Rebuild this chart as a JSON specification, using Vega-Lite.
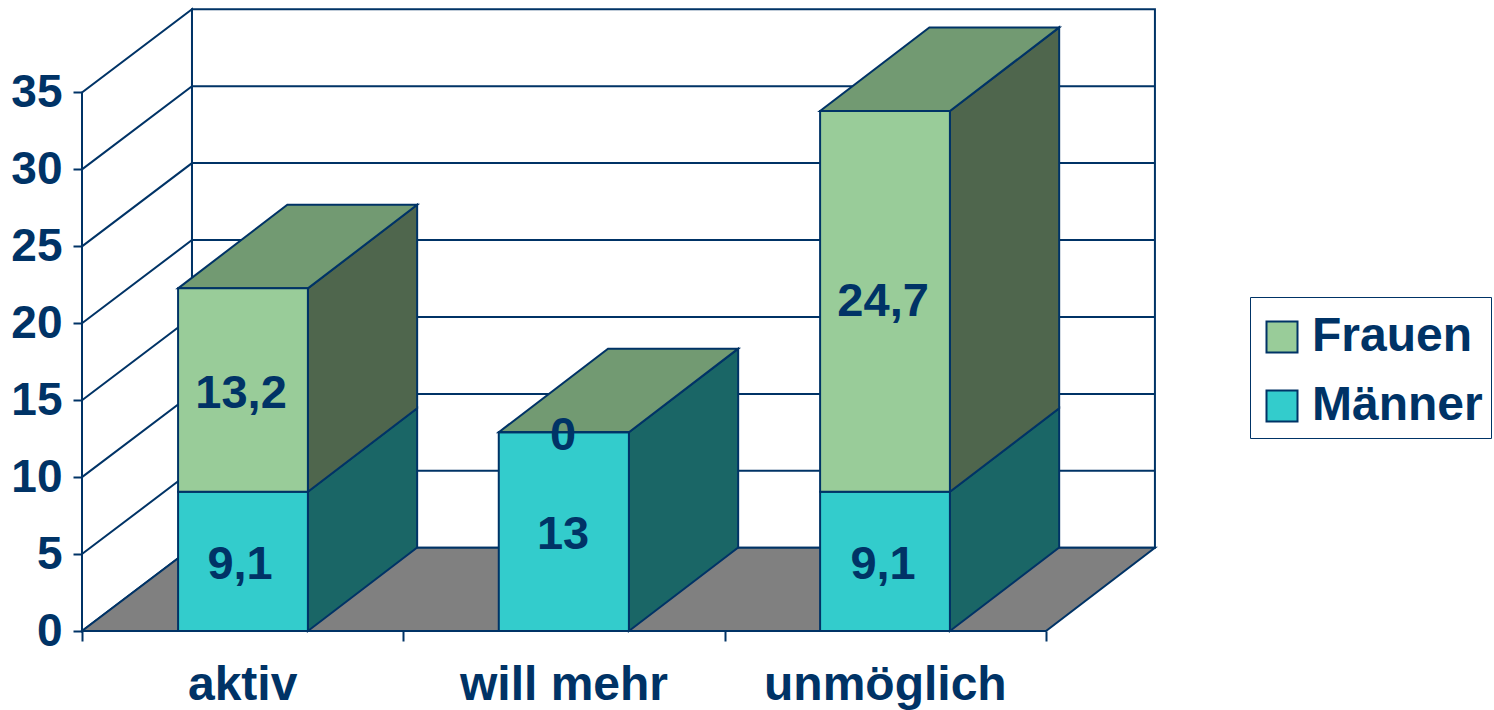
{
"$schema":"https://vega.github.io/schema/vega-lite/v6.json",
"width":1412,"height":631,
"autosize":{"type":"none"},
"padding":{"left":82,"top":0,"right":0,"bottom":79},
"background":"white",
"view":{"stroke":null},
"config":{"font":"Liberation Sans"},
"datasets":{
"walls":[
{"part":"left","x":0,"y":0,"y2":35},{"part":"left","x":0.3423,"y":5.41,"y2":40.41},
{"part":"back","x":0.3423,"y":5.41,"y2":40.41},{"part":"back","x":3.339,"y":5.41,"y2":40.41}
],
"floor":[
{"x":0,"y":0,"y2":0},{"x":0.3423,"y":0,"y2":5.41},{"x":3,"y":0,"y2":5.41},{"x":3.339,"y":5.41,"y2":5.41}
],
"grid":[
{"level":5,"x":0,"y":5},{"level":5,"x":0.3423,"y":10.41},{"level":5,"x":3.339,"y":10.41},
{"level":10,"x":0,"y":10},{"level":10,"x":0.3423,"y":15.41},{"level":10,"x":3.339,"y":15.41},
{"level":15,"x":0,"y":15},{"level":15,"x":0.3423,"y":20.41},{"level":15,"x":3.339,"y":20.41},
{"level":20,"x":0,"y":20},{"level":20,"x":0.3423,"y":25.41},{"level":20,"x":3.339,"y":25.41},
{"level":25,"x":0,"y":25},{"level":25,"x":0.3423,"y":30.41},{"level":25,"x":3.339,"y":30.41},
{"level":30,"x":0,"y":30},{"level":30,"x":0.3423,"y":35.41},{"level":30,"x":3.339,"y":35.41}
],
"sideM":[
{"cat":"aktiv","x":0.703,"y":0,"y2":9.05},{"cat":"aktiv","x":1.043,"y":5.43,"y2":14.48},
{"cat":"will mehr","x":1.702,"y":0,"y2":12.92},{"cat":"will mehr","x":2.042,"y":5.43,"y2":18.35},
{"cat":"unmöglich","x":2.701,"y":0,"y2":9.05},{"cat":"unmöglich","x":3.041,"y":5.43,"y2":14.48}
],
"sideF":[
{"cat":"aktiv","x":0.703,"y":9.05,"y2":22.27},{"cat":"aktiv","x":1.043,"y":14.48,"y2":27.7},
{"cat":"unmöglich","x":2.701,"y":9.05,"y2":33.8},{"cat":"unmöglich","x":3.041,"y":14.48,"y2":39.23}
],
"top":[
{"cat":"aktiv","x":0.299,"y":22.27,"y2":22.27},{"cat":"aktiv","x":0.639,"y":22.27,"y2":27.7},{"cat":"aktiv","x":0.703,"y":22.27,"y2":27.7},{"cat":"aktiv","x":1.043,"y":27.7,"y2":27.7},
{"cat":"will mehr","x":1.297,"y":12.92,"y2":12.92},{"cat":"will mehr","x":1.637,"y":12.92,"y2":18.35},{"cat":"will mehr","x":1.702,"y":12.92,"y2":18.35},{"cat":"will mehr","x":2.042,"y":18.35,"y2":18.35},
{"cat":"unmöglich","x":2.297,"y":33.8,"y2":33.8},{"cat":"unmöglich","x":2.637,"y":33.8,"y2":39.23},{"cat":"unmöglich","x":2.701,"y":33.8,"y2":39.23},{"cat":"unmöglich","x":3.041,"y":39.23,"y2":39.23}
],
"front":[
{"cat":"aktiv","series":"Männer","x":0.299,"x2":0.703,"y":0,"y2":9.05},
{"cat":"aktiv","series":"Frauen","x":0.299,"x2":0.703,"y":9.05,"y2":22.27},
{"cat":"will mehr","series":"Männer","x":1.297,"x2":1.702,"y":0,"y2":12.92},
{"cat":"will mehr","series":"Frauen","x":1.297,"x2":1.702,"y":12.92,"y2":12.92},
{"cat":"unmöglich","series":"Männer","x":2.297,"x2":2.701,"y":0,"y2":9.05},
{"cat":"unmöglich","series":"Frauen","x":2.297,"x2":2.701,"y":9.05,"y2":33.8}
],
"labels":[
{"label":"9,1","x":0.492,"y":4.32},{"label":"13,2","x":0.495,"y":15.4},
{"label":"13","x":1.497,"y":6.26},{"label":"0","x":1.497,"y":12.7},
{"label":"9,1","x":2.493,"y":4.32},{"label":"24,7","x":2.493,"y":21.37}
],
"cats":[
{"label":"aktiv","x":0.5,"y":-3.55},{"label":"will mehr","x":1.5,"y":-3.55},{"label":"unmöglich","x":2.5,"y":-3.55}
]
},
"encoding":{
"x":{"field":"x","type":"quantitative","title":null,"scale":{"domain":[0,4.3942],"nice":false,"zero":false},
"axis":{"values":[0,1,2,3],"labels":false,"grid":false,"domain":false,"ticks":true,"tickSize":10,"tickWidth":2,"tickColor":"#003366","title":null}},
"y":{"field":"y","type":"quantitative","title":null,"stack":null,"scale":{"domain":[0,41.01],"nice":false,"zero":false},
"axis":{"values":[0,5,10,15,20,25,30,35],"grid":false,"domain":false,"tickSize":9,"tickWidth":2,"tickColor":"#003366","labelFont":"Liberation Sans","labelFontSize":46,"labelFontWeight":"bold","labelColor":"#003366","labelPadding":11,"title":null}}
},
"layer":[
{"data":{"name":"walls"},"mark":{"type":"area","orient":"vertical","fill":"white","stroke":"#003366","strokeWidth":2},"encoding":{"y2":{"field":"y2"},"detail":{"field":"part"}}},
{"data":{"name":"grid"},"mark":{"type":"line","stroke":"#003366","strokeWidth":2},"encoding":{"detail":{"field":"level"}}},
{"data":{"name":"floor"},"mark":{"type":"area","orient":"vertical","fill":"#808080","stroke":"#003366","strokeWidth":2},"encoding":{"y2":{"field":"y2"}}},
{"data":{"name":"sideM"},"mark":{"type":"area","orient":"vertical","fill":"#1A6666","stroke":"#003366","strokeWidth":2},"encoding":{"y2":{"field":"y2"},"detail":{"field":"cat"}}},
{"data":{"name":"sideF"},"mark":{"type":"area","orient":"vertical","fill":"#4F664D","stroke":"#003366","strokeWidth":2},"encoding":{"y2":{"field":"y2"},"detail":{"field":"cat"}}},
{"data":{"name":"top"},"mark":{"type":"area","orient":"vertical","fill":"#729A72","stroke":"#003366","strokeWidth":2},"encoding":{"y2":{"field":"y2"},"detail":{"field":"cat"}}},
{"data":{"name":"front"},"mark":{"type":"rect","stroke":"#003366","strokeWidth":2},"encoding":{
"x2":{"field":"x2"},"y2":{"field":"y2"},
"fill":{"field":"series","type":"nominal","scale":{"domain":["Frauen","Männer"],"range":["#99CC99","#33CCCC"]},
"legend":{"title":"\u00a0","titleFontSize":1,"titlePadding":7,"orient":"none","legendX":1168,"legendY":297,"strokeColor":"#003366","fillColor":"white","padding":8,"symbolType":"square","symbolSize":961,"symbolStrokeWidth":2,"symbolStrokeColor":"#003366","labelFont":"Liberation Sans","labelFontSize":48,"labelFontWeight":"bold","labelColor":"#003366","labelOffset":6,"rowPadding":21,"labelLimit":400,"encoding":{"legend":{"update":{"strokeWidth":{"value":2}}}}}}}},
{"data":{"name":"labels"},"mark":{"type":"text","font":"Liberation Sans","fontSize":47,"fontWeight":"bold","color":"#003366","align":"center","baseline":"middle"},"encoding":{"text":{"field":"label"}}},
{"data":{"name":"cats"},"mark":{"type":"text","font":"Liberation Sans","fontSize":48,"fontWeight":"bold","color":"#003366","align":"center","baseline":"middle"},"encoding":{"text":{"field":"label"}}}
]
}
